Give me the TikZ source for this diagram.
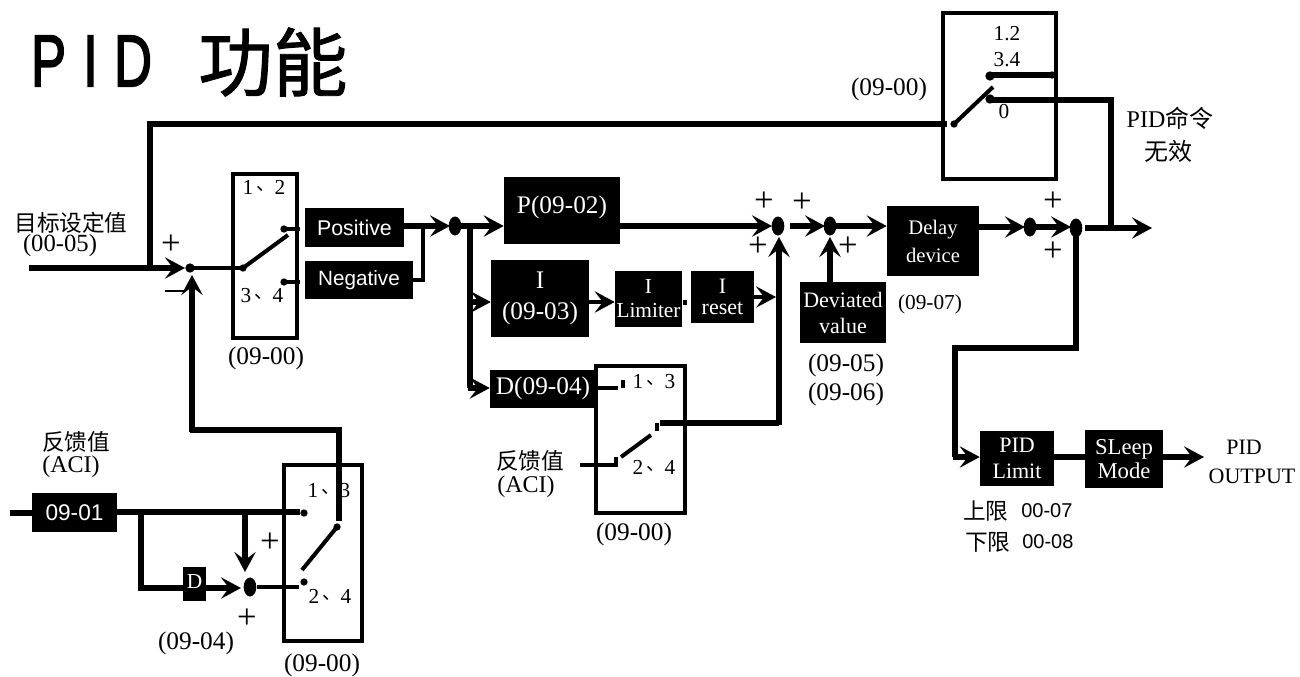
\documentclass[tikz,border=0pt]{standalone}
\usepackage{fontspec}
\usetikzlibrary{arrows.meta,calc}
\setmainfont{Liberation Serif}
\newfontfamily\cjk{Noto Sans CJK SC}
\newfontfamily\cjkt{Noto Sans CJK SC}[FakeBold=1.2]
\newfontfamily\lsans{Liberation Sans}
\newfontfamily\lsansb{Liberation Sans}[FakeBold=2.6]
\newcommand{\fs}[2]{\fontsize{#1}{#2}\selectfont}
\newcommand{\dn}{\hspace{2pt}\raisebox{3pt}{\cjk\fs{14}{14}、}}
\tikzset{
  px/.style={x=0.75pt,y=-0.75pt},
  blk/.style={fill=black,text=white,inner sep=0pt,align=center},
  frm/.style={draw=black,line width=2.4pt},
  wire/.style={line width=4pt,draw=black},
  thin wire/.style={line width=3pt,draw=black},
  blade/.style={line width=3pt,draw=black},
  arr/.style={line width=4pt,draw=black,-{Stealth[length=15pt,width=16pt,inset=6pt]}},
  lbl/.style={inner sep=0pt,align=center,font=\fs{16}{18}},
  code/.style={inner sep=0pt,align=center,font=\fs{19}{20}},
  cjkl/.style={inner sep=0pt,align=center,font=\cjk\fs{17}{18}},
  plus/.style={inner sep=0pt,font=\fs{26}{26}},
  oval/.style={fill=black,circle,inner sep=0pt,minimum size=9.5pt,yscale=1.5},
  dot/.style={fill=black,circle,inner sep=0pt,minimum size=5.5pt},
  titlelet/.style={inner sep=0pt,xscale=0.72,font=\lsansb\fs{55}{55}},
}
\begin{document}
\begin{tikzpicture}[px]
\useasboundingbox (0,0) rectangle (1300,676);
% title
\node[titlelet] (tp) at (48.5,61) {P};
\node[titlelet] (ti) at (90.5,61) {I};
\node[titlelet] (td) at (133,61) {D};
\node[inner sep=0pt,anchor=west] (titlecn) at (198,62) {\cjkt\fs{56}{56}功能};

% frames
\draw[frm] (233,174) rectangle (297,338);
\draw[frm] (284,465) rectangle (362,641);
\draw[frm] (596,366) rectangle (685,513);
\draw[frm] (943,13) rectangle (1056,179);

% coordinates
\coordinate (in) at (29,268);
\coordinate (s1) at (190,268);
\coordinate (t1) at (150,268);
\coordinate (t1b) at (150,124);
\coordinate (sw3in) at (947,124);
\coordinate (sw1p) at (243,268);
\coordinate (sw1a) at (284,229);
\coordinate (sw1b) at (284,282);
\coordinate (j1) at (455,226);
\coordinate (s2) at (778,226);
\coordinate (s3) at (830,226);
\coordinate (s4) at (1030,227);
\coordinate (s5) at (1076,228);
\coordinate (out) at (1152,228);
\coordinate (t5) at (1111,228);
\coordinate (sb) at (250,587);
\coordinate (swbp) at (337,527);
\coordinate (swb1) at (304,513);
\coordinate (swb2) at (304,582);

% blocks
\node[blk,minimum width=74.25pt,minimum height=29.25pt,font=\lsans\fs{16}{17}] (pos) at (354.5,227.5) {Positive};
\node[blk,minimum width=81pt,minimum height=28.5pt,font=\lsans\fs{15.5}{17}] (neg) at (359,280) {Negative};
\node[blk,minimum width=87pt,minimum height=50.25pt,font=\fs{19}{20}] (p) at (562,210.5) {\raisebox{8pt}{P(09-02)}};
\node[blk,minimum width=73.5pt,minimum height=57.75pt,font=\fs{19}{23}] (i) at (540,298.5) {I\\(09-03)};
\node[blk,minimum width=50.25pt,minimum height=42pt,font=\fs{16}{18}] (ilim) at (648.5,299) {I\\Limiter};
\node[blk,minimum width=47.25pt,minimum height=39pt,font=\fs{16.5}{15.5}] (irst) at (722.5,297) {I\\reset};
\node[blk,minimum width=79.5pt,minimum height=28.5pt,font=\fs{19}{20}] (d) at (543,388.5) {D(09-04)};
\node[blk,minimum width=64.5pt,minimum height=45.75pt,font=\fs{16.5}{19.5}] (dev) at (843,312.5) {Deviated\\value};
\node[blk,minimum width=69pt,minimum height=52.5pt,font=\fs{15.5}{21}] (delay) at (933,241) {Delay\\device};
\node[blk,minimum width=55.5pt,minimum height=41.25pt,font=\fs{16.5}{19}] (lim) at (1017,458.5) {PID\\Limit};
\node[blk,minimum width=58.5pt,minimum height=43.5pt,font=\fs{17}{18}] (slp) at (1124,459) {SLeep\\Mode};
\node[blk,minimum width=63.75pt,minimum height=29.25pt,font=\lsans\fs{17}{18}] (ai) at (74.5,512.5) {09-01};
\node[blk,minimum width=17.25pt,minimum height=25.5pt,font=\fs{16}{16}] (db) at (194.5,584) {\raisebox{4pt}{D}};

% main input
\draw[arr] (in) -- (185,268);
\draw[wire] (t1) -- (t1b) -- (sw3in);
\draw[thin wire] (s1) -- (sw1p);
\draw[blade] (sw1p) -- (288,235);
\draw[thin wire] (sw1a) -- (300,229);
\draw[thin wire] (sw1b) -- (300,282);
\draw[thin wire] (neg.east) -- (423,280) -- (423,227);
\draw[arr] (pos.east |- j1) -- (450,226);
\draw[arr] (j1) -- (p.west |- j1);
\draw[wire] (470,226) -- (470,388);
\draw[arr] (470,302) -- (i.west |- 0,302);
\draw[arr] (468,388) -- (d.west |- 0,388);
\draw[arr] (p.east |- j1) -- (772,226);
\draw[arr,line width=3pt] (i.east |- 0,302) -- (ilim.west |- 0,302);
\draw[arr,line width=3pt] (irst.east) -- (776,297);
\draw[wire] (660,423) -- (779,423);
\draw[arr] (779,425) -- (779,237);
\draw[arr] (790,226) -- (825,226);
\draw[arr] (s3) -- (delay.west |- s3);
\draw[arr] (dev.north -| s3) -- (830,237);
\draw[arr] (delay.east |- s4) -- (1025,227);
\draw[arr] (s4) -- (1071,227);
\draw[arr] (1085,228) -- (out);
\draw[wire] (t5) -- (1111,100) -- (990,100);
\draw[wire] (s5) -- (1076,348) -- (955,348) -- (955,457);
\draw[arr] (953,457) -- (lim.west |- 0,457);
\draw[wire] (lim.east |- 0,457) -- (slp.west |- 0,457);
\draw[arr] (slp.east |- 0,457) -- (1204,457);

% junctions
\node[oval] (nj1) at (j1) {};
\node[oval] (ns2) at (s2) {};
\node[oval] (ns3) at (s3) {};
\node[oval] (ns4) at (s4) {};
\node[oval] (ns5) at (s5) {};
\node[oval] (nsb) at (sb) {};
\node[dot,minimum size=7pt] (ns1) at (s1) {};
\node[dot] at (sw1p) {};
\node[dot] at (sw1a) {};
\node[dot] at (sw1b) {};

% feedback
\draw[wire] (10,513) -- (ai.west |- 0,513);
\draw[wire] (ai.east |- 0,512) -- (300,512);
\draw[wire] (141,512) -- (141,588) -- (db.west |- 0,588);
\draw[arr] (245,512) -- (245,572);
\draw[arr] (db.east |- 0,588) -- (241,588);
\draw[thin wire] (nsb) -- (299,587);
\draw[blade] (302,570) -- (swbp);
\draw[wire] (339,521) -- (339,430) -- (190,430);
\draw[arr] (192,432) -- (192,275);
\node[dot] at (swb1) {};
\node[dot] at (swb2) {};
\node[dot] at (swbp) {};
\draw[line width=1.6pt] (184,291) -- (165,291);

% D switch
\draw[thin wire] (d.east |- 0,388) -- (618,388);
\draw[blade] (623,380) -- (623,388);
\draw[blade] (657,423) -- (657,431);
\draw[blade] (616,457) -- (616,465) -- (580,465);
\draw[blade] (621,457) -- (651,435);
\fill (683,300) rectangle (687,305);

% top switch
\draw[wire] (990,75) -- (1050,75);
\node[dot] at (1052,75) {};
\node[dot,minimum size=7pt] at (990,76) {};
\node[dot,minimum size=7pt] at (990,99) {};
\node[dot] at (954,124) {};
\draw[blade] (954,124) -- (993,87);

% labels
\node[cjkl] (l1) at (71,223) {目标设定值};
\node[code,font=\fs{18.5}{20}] (l2) at (60,246) {(00-05)};
\node[code] (l3) at (266,358) {(09-00)};
\node[lbl] (s11) at (264,187) {1\dn 2};
\node[lbl] (s12) at (262,296) {3\dn 4};
\node[cjkl] (f1) at (76,442) {反馈值};
\node[code,font=\fs{18}{20}] (f2) at (71,467) {(ACI)};
\node[lbl] (b1) at (329,491) {1\dn 3};
\node[lbl] (b2) at (330,596) {2\dn 4};
\node[code] (b3) at (196,643) {(09-04)};
\node[code] (b4) at (322,665) {(09-00)};
\node[lbl] (d1) at (654,382) {1\dn 3};
\node[lbl] (d2) at (654,467) {2\dn 4};
\node[cjkl] (f3) at (530,461) {反馈值};
\node[code,font=\fs{18}{20}] (f4) at (526,487) {(ACI)};
\node[code] (d3) at (634,534) {(09-00)};
\node[code] (e1) at (846,365) {(09-05)};
\node[code] (e2) at (846,394) {(09-06)};
\node[code,font=\fs{16}{18}] (e3) at (930,304) {(09-07)};
\node[code] (t3) at (889,89) {(09-00)};
\node[lbl] (t1l) at (1007,34) {1.2};
\node[lbl] (t2l) at (1007,60) {3.4};
\node[lbl] (t0l) at (1004,112) {0};
\node[lbl,font=\fs{18}{18}] (cmd) at (1170,118) {PID\cjk 命令};
\node[cjkl,font=\cjk\fs{18}{18}] (inv) at (1168,151) {无效};
\node[lbl,font=\fs{16.5}{18}] (o1) at (1244,447) {PID};
\node[lbl,font=\fs{16.5}{18}] (o2) at (1252,476) {OUTPUT};
\node[cjkl,anchor=west] (u1) at (963,511) {上限};
\node[cjkl,anchor=west] (u2) at (965,542) {下限};
\node[lbl,anchor=west,font=\lsans\fs{15}{15}] (u3) at (1021,511) {00-07};
\node[lbl,anchor=west,font=\lsans\fs{15}{15}] (u4) at (1022,542) {00-08};

% plus signs
\foreach \n/\x/\y in {a/171/245,b/764/202,c/758/247,d/802/203,e/848/247,f/1053/202,g/1053/252,h/270/543,i/247/619}{
  \node[plus] (pl\n) at (\x,\y) {+};
}
\end{tikzpicture}
\end{document}
